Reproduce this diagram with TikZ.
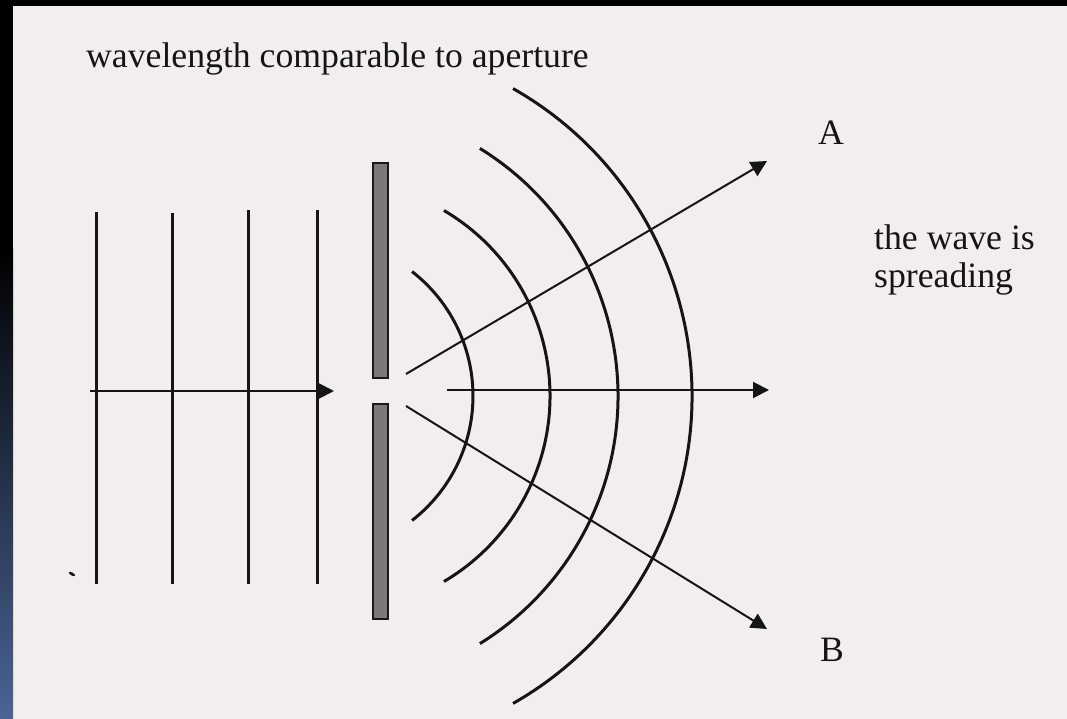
\documentclass[tikz,border=0pt]{standalone}
\usepackage{fontspec}
\setmainfont{Liberation Serif}
\usetikzlibrary{arrows.meta}
\definecolor{paper}{HTML}{F2EEEE}
\definecolor{ink}{HTML}{151515}
\definecolor{stripblue}{HTML}{4A6496}
\definecolor{barfill}{HTML}{7A7878}
\begin{document}
\begin{tikzpicture}[x=1pt,y=-1pt,
  wavefront/.style={draw=ink,line width=3pt},
  ray/.style={draw=ink,line width=2pt,-{Triangle[length=16pt,width=16pt]}},
  barrier/.style={fill=barfill,draw=black!90,line width=2.2pt},
  lbl/.style={inner sep=0pt,font=\fontsize{35.7}{37}\selectfont,text=ink}]
\useasboundingbox (0,0) rectangle (1067,719);
% background and frame
\fill[paper] (0,0) rectangle (1067,719);
\fill[black] (0,0) rectangle (1067,6);
\fill[black] (0,0) rectangle (13,250);
\shade[top color=black,bottom color=stripblue] (0,249) rectangle (13,719);
% title
\node[lbl,anchor=base west] (title) at (86,68) {wavelength comparable to aperture};
% plane wavefronts
\foreach \x/\t [count=\i] in {96/212,172/213,248/210,317/210}{
  \coordinate (pt\i) at (\x,\t);
  \coordinate (pb\i) at (\x,584);
  \draw[wavefront] (pt\i) -- (pb\i);
}
% incoming arrow
\coordinate (inS) at (90,391);
\coordinate (inE) at (334,391);
\draw[ray] (inS) -- (inE);
% barrier
\draw[barrier] (373,163) rectangle (388,378);
\draw[barrier] (373,404) rectangle (388,619);
% circular wavefronts
\draw[wavefront] (315.5,396) ++(-52.2:157.5) arc[start angle=-52.2,end angle=52.2,radius=157.5];
\draw[wavefront] (334.7,396) ++(-59.5:215.3) arc[start angle=-59.5,end angle=59.5,radius=215.3];
\draw[wavefront] (327,396) ++(-58.3:291) arc[start angle=-58.3,end angle=58.3,radius=291];
\draw[wavefront] (338.4,396) ++(-60.4:353.6) arc[start angle=-60.4,end angle=60.4,radius=353.6];
% outgoing arrows
\coordinate (oA) at (406,374);
\coordinate (oB) at (406,406);
\coordinate (oC) at (447,390);
\coordinate (tA) at (767,161);
\coordinate (tB) at (767,629);
\coordinate (tC) at (769,390);
\draw[ray] (oA) -- (tA);
\draw[ray] (oB) -- (tB);
\draw[ray] (oC) -- (tC);
% labels
\node[lbl] (A) at (831,133) {A};
\node[lbl] (B) at (832,650) {B};
\node[lbl,anchor=base west,align=left] (spread) at (874,287) {the wave is\\spreading};
% scan speck
\fill[ink,rotate around={-30:(72,574)}] (72,574) ellipse[x radius=3.5,y radius=1.5];
\end{tikzpicture}
\end{document}
